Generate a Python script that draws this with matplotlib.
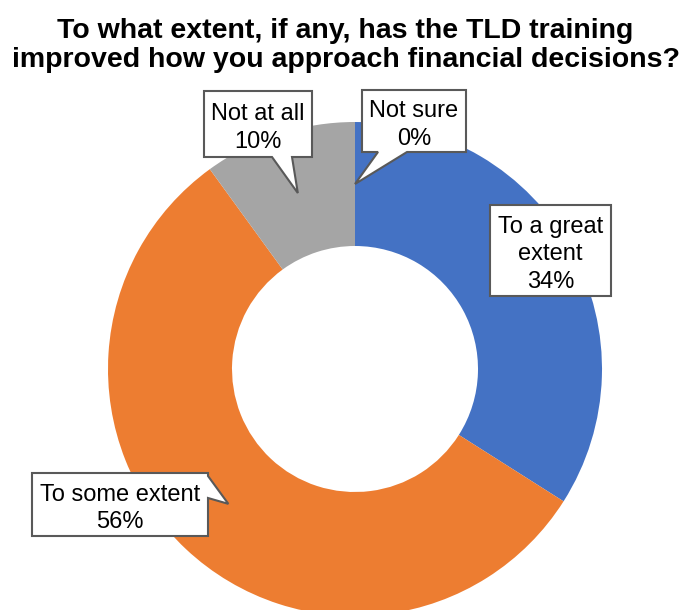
import numpy as np
import matplotlib.pyplot as plt
from matplotlib.patches import Polygon

plt.rcParams['font.family'] = ['Liberation Sans', 'DejaVu Sans']

categories = ["To a great extent", "To some extent", "Not at all", "Not sure"]
shares = [34, 56, 10, 0]
colors = ["#4472C4", "#ED7D31", "#A5A5A5", "#7F7F7F"]
title_lines = ["To what extent, if any, has the TLD training",
               "improved how you approach financial decisions?"]

W, H = 691, 610
fig = plt.figure(figsize=(W / 100, H / 100), dpi=100)
ax = fig.add_axes([0, 0, 1, 1])

# donut drawn in pixel units (y measured from the bottom)
cx, cy = 355, H - 369
r_out, r_in = 247, 123
ax.pie(shares, colors=colors, startangle=90, counterclock=False,
       center=(cx, cy), radius=r_out,
       wedgeprops=dict(width=r_out - r_in, linewidth=0))
ax.set_xlim(0, W)
ax.set_ylim(0, H)
ax.set_aspect('equal')
ax.axis('off')


def mid_point(i):
    start = 90 - sum(shares[:i]) * 3.6
    ang = np.radians(start - shares[i] * 3.6 / 2)
    rm = (r_out + r_in) / 2
    return cx + rm * np.cos(ang), cy + rm * np.sin(ang)


def callout(text, box, side=None, base=None, tip=None):
    # box = (left, top, right, bottom) in pixels from the top
    l, t, r, b = box
    t, b = H - t, H - b
    pts = [(l, t), (r, t)]
    if side == 'right':
        pts += [(r, H - base[0]), tip, (r, H - base[1])]
    pts += [(r, b)]
    if side == 'bottom':
        pts += [(base[1], b), tip, (base[0], b)]
    pts += [(l, b)]
    ax.add_patch(Polygon(pts, closed=True, facecolor='white',
                         edgecolor='#595959', linewidth=1.5, zorder=3))
    ax.text((l + r) / 2, (t + b) / 2 - 4, text, ha='center', va='center',
            fontsize=17, linespacing=1.3, color='black', zorder=4)


labels = [f"{c}\n{v}%" for c, v in zip(categories, shares)]
labels[0] = f"To a great\nextent\n{shares[0]}%"

callout(labels[0], (490, 205, 611, 296))
callout(labels[1], (32, 473, 208, 536), side='right', base=(476, 498),
        tip=mid_point(1))
callout(labels[2], (204, 91, 312, 157), side='bottom', base=(272, 292),
        tip=mid_point(2))
callout(labels[3], (362, 90, 466, 152), side='bottom', base=(378, 407),
        tip=mid_point(3))

for line, base_y in zip(title_lines, [38, 67]):
    fig.text(0.5, 1 - base_y / H, line, ha='center',
             va='baseline', fontsize=20.5, fontweight='bold')

fig.savefig("out.png", dpi=100)
